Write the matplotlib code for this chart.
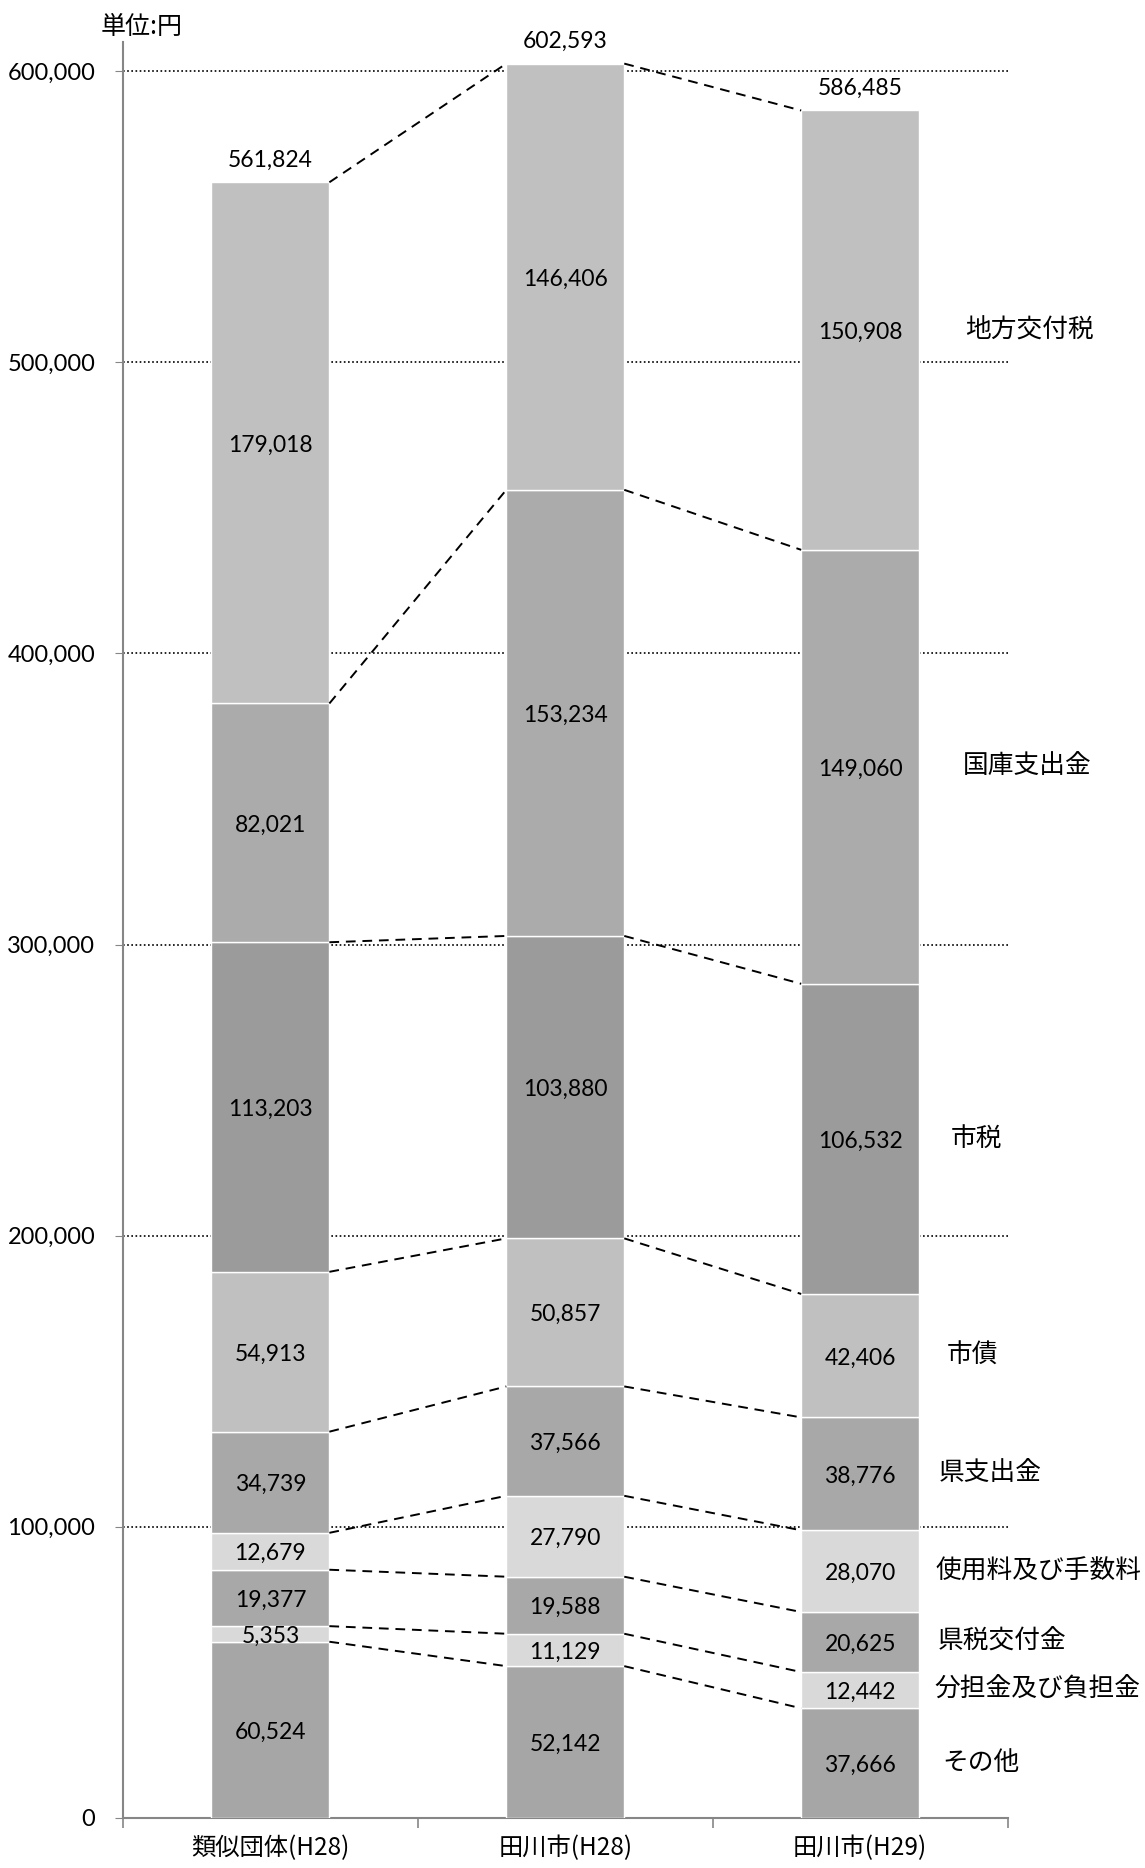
import numpy as np
import matplotlib
matplotlib.use('Agg')
import matplotlib.pyplot as plt
from matplotlib.ticker import FuncFormatter, FixedLocator

plt.rcParams['font.family'] = ['Lato', 'Noto Sans CJK JP', 'DejaVu Sans']
jp = ['Noto Sans CJK JP', 'DejaVu Sans']

categories = ['類似団体(H28)', '田川市(H28)', '田川市(H29)']

# stacked bottom -> top
series_names = ['その他', '分担金及び負担金', '県税交付金', '使用料及び手数料',
                '県支出金', '市債', '市税', '国庫支出金', '地方交付税']
sonota = [60524, 52142, 37666]
buntan = [5353, 11129, 12442]
kenzei = [19377, 19588, 20625]
shiyoryo = [12679, 27790, 28070]
kenshishutsu = [34739, 37566, 38776]
shisai = [54913, 50857, 42406]
shizei = [113203, 103880, 106532]
kokko = [82021, 153234, 149060]
chiho = [179018, 146406, 150908]
totals = [561824, 602593, 586485]

values = [sonota, buntan, kenzei, shiyoryo, kenshishutsu, shisai, shizei, kokko, chiho]
colors = ['#a6a6a6', '#d9d9d9', '#a8a8a8', '#d9d9d9', '#a8a8a8',
          '#c0c0c0', '#9b9b9b', '#ababab', '#c0c0c0']
# x centre (data units) of the series names on the right
name_x = [2.41, 2.60, 2.48, 2.605, 2.44, 2.38, 2.395, 2.565, 2.575]

fig = plt.figure(figsize=(11.45, 18.68), dpi=100)
ax = fig.add_axes([0.1074, 0.0268, 0.7726, 0.9507])

x = np.arange(len(categories))
w = 0.4
bottom = np.zeros(len(categories))
tops = [bottom.copy()]
for vals, col in zip(values, colors):
    vals = np.array(vals, dtype=float)
    ax.bar(x, vals, w, bottom=bottom, color=col, edgecolor='white', linewidth=1, zorder=3)
    for i in range(len(x)):
        ax.text(x[i], bottom[i] + vals[i] / 2 - 800, f'{int(vals[i]):,}', ha='center', va='center',
                fontsize=16.5, color='black', zorder=5)
    bottom = bottom + vals
    tops.append(bottom.copy())

# dashed connectors between bar segment tops
for t in tops[1:]:
    for i in range(len(x) - 1):
        ax.plot([x[i] + w / 2, x[i + 1] - w / 2], [t[i], t[i + 1]], ls=(0, (5, 3.5)),
                color='black', lw=1.4, zorder=4)

for i in range(len(x)):
    ax.annotate(f'{totals[i]:,}', (x[i], tops[-1][i]), xytext=(0, 16), textcoords='offset points',
                ha='center', va='center', fontsize=16.5)

# series names beside the last bar
for k, name in enumerate(series_names):
    y = tops[k][-1] + values[k][-1] / 2
    ax.text(name_x[k], y, name, ha='center', va='center', fontsize=18.5, family=jp, clip_on=False)

ax.set_xlim(-0.5, 2.5)
ax.set_ylim(0, 610000)
ax.set_yticks(np.arange(0, 600001, 100000))
ax.yaxis.set_major_formatter(FuncFormatter(lambda v, p: f'{int(v):,}'))
ax.tick_params(axis='y', labelsize=17, length=6, color='#868686', pad=14)
ax.yaxis.grid(True, ls=(0, (1, 1.5)), color='black', lw=1.2, zorder=1)
ax.set_axisbelow(True)

ax.set_xticks(x)
ax.set_xticklabels(categories, family=jp, fontsize=17.5)
ax.tick_params(axis='x', length=0, pad=12)
ax.xaxis.set_minor_locator(FixedLocator([-0.5, 0.5, 1.5, 2.5]))
ax.tick_params(axis='x', which='minor', length=7, color='#868686', width=1.2)

for s in ['top', 'right']:
    ax.spines[s].set_visible(False)
for s in ['left', 'bottom']:
    ax.spines[s].set_color('#868686')
    ax.spines[s].set_linewidth(1.5)

fig.text(0.088, 0.9855, '単位:円', ha='left', va='center', fontsize=18, family=jp)

fig.savefig('out.png', dpi=100, facecolor='white')
